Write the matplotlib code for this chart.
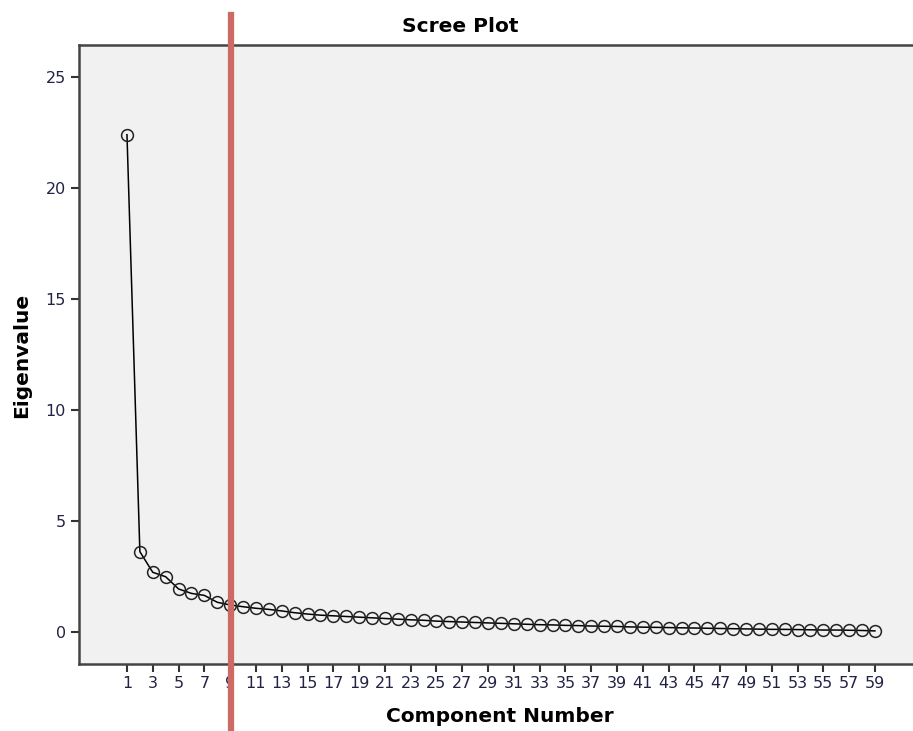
import matplotlib
matplotlib.use("Agg")
import matplotlib.pyplot as plt

# Scree plot data
components = list(range(1, 60))
eigenvalues = [
    22.40, 3.62, 2.69, 2.49, 1.94, 1.74, 1.65, 1.34, 1.22, 1.14,
    1.07, 1.02, 0.95, 0.87, 0.81, 0.76, 0.73, 0.70, 0.67, 0.64,
    0.61, 0.58, 0.55, 0.53, 0.49, 0.47, 0.45, 0.43, 0.41, 0.39,
    0.37, 0.35, 0.33, 0.32, 0.30, 0.29, 0.27, 0.26, 0.25, 0.23,
    0.22, 0.21, 0.20, 0.19, 0.18, 0.17, 0.16, 0.15, 0.14, 0.13,
    0.12, 0.12, 0.11, 0.10, 0.09, 0.09, 0.08, 0.07, 0.05,
]
x_ticks = list(range(1, 60, 2))
y_ticks = [0, 5, 10, 15, 20, 25]
cutoff_x = 9.06

fig = plt.figure(figsize=(9.13, 7.31), dpi=100)
ax = fig.add_axes([79 / 913, 1 - 664 / 731, 1 - 79 / 913, (664 - 45) / 731])
ax.set_facecolor("#f1f1f1")

ax.plot(components, eigenvalues, color="black", linewidth=1.1,
        marker="o", markersize=8.5, markerfacecolor="none",
        markeredgecolor="#222222", markeredgewidth=1.1)

# red cut-off line, runs past the frame top and bottom
ax.axvline(cutoff_x, ymin=-0.108, ymax=1.048, color="#cd6a64",
           linewidth=4.5, clip_on=False, zorder=5)

ax.set_xlim(-2.72, 61.95)
ax.set_ylim(-1.44, 26.44)
ax.set_xticks(x_ticks)
ax.set_yticks(y_ticks)
ax.tick_params(axis="both", direction="out", length=6, width=1.5,
               color="#333333", labelsize=11.5, labelcolor="#222244")
ax.tick_params(axis="x", pad=3)

for side in ["left", "bottom", "top"]:
    ax.spines[side].set_color("#444444")
    ax.spines[side].set_linewidth(1.8)
ax.spines["right"].set_visible(False)

fig.text(460 / 913, 1 - 26 / 731, "Scree Plot", ha="center", va="center",
         fontsize=14.5, fontweight="bold")
fig.text(500 / 913, 1 - 717 / 731, "Component Number", ha="center",
         va="center", fontsize=14.5, fontweight="bold")
fig.text(22 / 913, 1 - 355 / 731, "Eigenvalue", ha="center", va="center",
         rotation=90, fontsize=14.5, fontweight="bold")

fig.savefig("out.png", dpi=100)
